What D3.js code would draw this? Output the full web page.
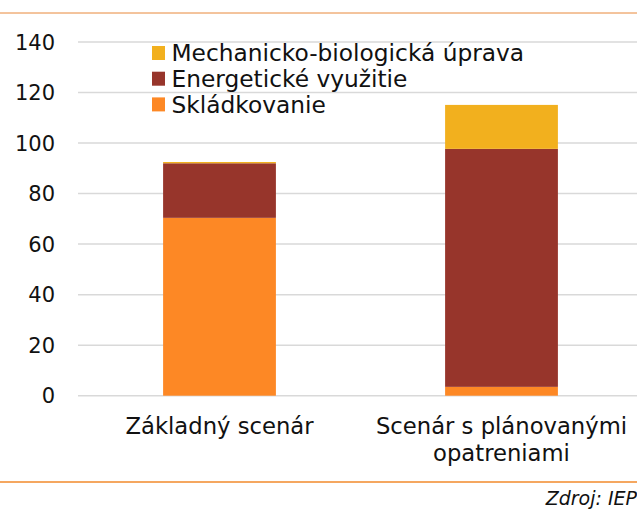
<!DOCTYPE html>
<html>
<head>
<meta charset="utf-8">
<script src="https://cdn.jsdelivr.net/npm/d3@7.9.0/dist/d3.min.js"></script>
<style>
  html, body { margin: 0; padding: 0; background: #fff; }
  svg { display: block; font-family: "DejaVu Sans", sans-serif; }
</style>
</head>
<body>
<svg id="chart" width="637" height="509"></svg>
<script>
// data
const scenarios = ['Základný scenár', 'Scenár s plánovanými opatreniami'];
const seriesNames = ['Skládkovanie', 'Energetické využitie', 'Mechanicko-biologická úprava'];
const skladkovanie = [70.4, 3.5];
const energeticke = [21.6, 94.2];
const mbu = [0.5, 17.4];
const yTicks = [0, 20, 40, 60, 80, 100, 120, 140];
const colors = ['#fd8825', '#97352b', '#f2b01e'];

const svg = d3.select('#chart');

const rows = scenarios.map((s, i) => ({
  scenario: s,
  'Skládkovanie': skladkovanie[i],
  'Energetické využitie': energeticke[i],
  'Mechanicko-biologická úprava': mbu[i]
}));

const x = d3.scaleBand()
  .domain(scenarios)
  .range([78.5, 642.5])
  .paddingInner(0.6)
  .paddingOuter(0.3);

const y = d3.scaleLinear().domain([0, 140]).range([395.7, 42]);

// top rule
svg.append('line')
  .attr('x1', 0).attr('x2', 637).attr('y1', 13).attr('y2', 13)
  .attr('stroke', '#e8883a').attr('stroke-width', 1);

// gridlines
svg.append('g').selectAll('line')
  .data(yTicks)
  .join('line')
    .attr('x1', 78).attr('x2', 637)
    .attr('y1', d => y(d)).attr('y2', d => y(d))
    .attr('stroke', '#d9d9d9').attr('stroke-width', 1.5);

// y labels
svg.append('g').selectAll('text')
  .data(yTicks)
  .join('text')
    .attr('x', 55).attr('y', d => y(d))
    .attr('dy', '0.36em')
    .attr('text-anchor', 'end')
    .attr('font-size', 21)
    .attr('fill', '#111')
    .text(d => d);

// stacked bars
const stack = d3.stack().keys(seriesNames);
const layers = stack(rows);

svg.append('g').selectAll('g')
  .data(layers)
  .join('g')
    .attr('fill', (_, i) => colors[i])
  .selectAll('rect')
  .data(d => d)
  .join('rect')
    .attr('x', d => x(d.data.scenario))
    .attr('width', x.bandwidth())
    .attr('y', d => y(d[1]))
    .attr('height', d => y(d[0]) - y(d[1]));

// category labels
const catLines = [['Základný scenár'], ['Scenár s plánovanými', 'opatreniami']];
scenarios.forEach((s, i) => {
  const t = svg.append('text')
    .attr('x', x(s) + x.bandwidth() / 2)
    .attr('y', 434)
    .attr('text-anchor', 'middle')
    .attr('font-size', 22.7)
    .attr('fill', '#111');
  catLines[i].forEach((ln, j) => {
    t.append('tspan')
      .attr('x', x(s) + x.bandwidth() / 2)
      .attr('dy', j === 0 ? 0 : 27)
      .text(ln);
  });
});

// legend (top to bottom: reversed stack order)
const legendItems = seriesNames.map((n, i) => ({ name: n, color: colors[i] })).reverse();
const lg = svg.append('g').attr('transform', 'translate(152,53)');
legendItems.forEach((d, i) => {
  const row = lg.append('g').attr('transform', `translate(0,${i * 25.7})`);
  row.append('rect')
    .attr('x', 0).attr('y', -7).attr('width', 13).attr('height', 14)
    .attr('fill', d.color);
  row.append('text')
    .attr('x', 19.5).attr('dy', '0.36em')
    .attr('font-size', 23.3)
    .attr('fill', '#111')
    .text(d.name);
});

// bottom rule + source
svg.append('line')
  .attr('x1', 0).attr('x2', 637).attr('y1', 482).attr('y2', 482)
  .attr('stroke', '#f28a2b').attr('stroke-width', 1.5);

svg.append('text')
  .attr('x', 637).attr('y', 505)
  .attr('text-anchor', 'end')
  .attr('font-size', 19)
  .attr('font-style', 'italic')
  .attr('fill', '#111')
  .text('Zdroj: IEP');
</script>
</body>
</html>
